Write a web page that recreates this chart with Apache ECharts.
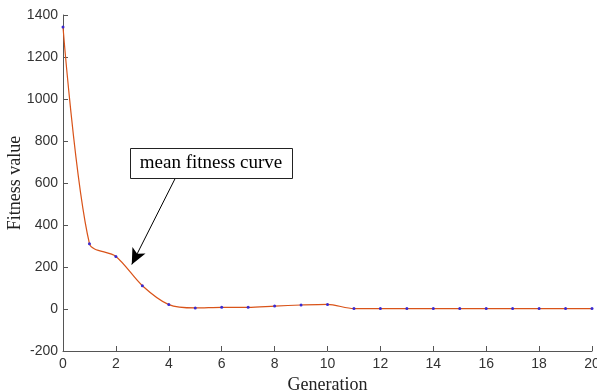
<!DOCTYPE html>
<html>
<head>
<meta charset="utf-8">
<script src="https://cdn.jsdelivr.net/npm/echarts@6/dist/echarts.min.js"></script>
<style>
  html, body { margin: 0; padding: 0; background: #fff; }
  #chart { width: 597px; height: 392px; }
</style>
</head>
<body>
<div id="chart"></div>
<script>
// Generations and mean fitness per generation
const generations = [0, 1, 2, 3, 4, 5, 6, 7, 8, 9, 10, 11, 12, 13, 14, 15, 16, 17, 18, 19, 20];
const meanFitness = [1343, 311, 250, 111, 21, 5, 8, 8, 14, 19, 22, 2, 2, 2, 2, 2, 2, 2, 2, 2, 2];

// Annotation arrow: tail near the label box, head pointing at the curve
const arrowTail = [4.27, 629];
const arrowHead = [2.6, 212];
const annotationText = 'mean fitness curve';

const chart = echarts.init(document.getElementById('chart'));

const seriesData = generations.map((g, i) => [g, meanFitness[i]]);

const axisGray = '#555';
const tickFont = { fontFamily: 'Liberation Sans, Arial, sans-serif', fontSize: 14, color: '#333' };
const nameFont = { fontFamily: 'Liberation Serif, Times New Roman, serif', fontSize: 18, color: '#222' };

chart.setOption({
  animation: false,
  backgroundColor: '#fff',
  grid: { left: 63, right: 5, top: 15, bottom: 41, containLabel: false, outerBoundsMode: 'none' },
  xAxis: {
    type: 'value',
    min: 0, max: 20, interval: 2,
    name: 'Generation',
    nameLocation: 'middle',
    nameGap: 23,
    nameTextStyle: nameFont,
    axisLine: { show: true, onZero: false, lineStyle: { color: axisGray, width: 1 } },
    axisTick: { show: true, inside: true, length: 5, lineStyle: { color: axisGray } },
    axisLabel: Object.assign({ margin: 6, formatter: v => String(v) }, tickFont),
    splitLine: { show: false }
  },
  yAxis: {
    type: 'value',
    min: -200, max: 1400, interval: 200,
    name: 'Fitness value',
    nameLocation: 'middle',
    nameGap: 39,
    nameMoveOverlap: false,
    nameRotate: 90,
    nameTextStyle: nameFont,
    axisLine: { show: true, onZero: false, lineStyle: { color: axisGray, width: 1 } },
    axisTick: { show: true, inside: true, length: 5, lineStyle: { color: axisGray } },
    axisLabel: Object.assign({ margin: 5, formatter: v => String(v) }, tickFont),
    splitLine: { show: false }
  },
  series: [
    {
      type: 'line',
      data: seriesData,
      smooth: 0.3,
      symbol: 'circle',
      symbolSize: 3,
      itemStyle: { color: '#3a2bd0' },
      lineStyle: { color: '#D95319', width: 1.2 },
      z: 3,
      markLine: {
        silent: true,
        symbol: ['none', 'arrow'],
        symbolSize: [11, 16],
        label: { show: false },
        lineStyle: { color: '#000', width: 1, type: 'solid' },
        data: [[{ coord: arrowTail }, { coord: arrowHead }]]
      }
    }
  ],
  graphic: [
    {
      type: 'rect',
      left: 130, top: 148,
      shape: { width: 162, height: 30 },
      style: { fill: '#fff', stroke: '#222', lineWidth: 1 },
      z: 10
    },
    {
      type: 'text',
      x: 211, y: 163,
      style: {
        text: annotationText,
        font: '19px "Liberation Serif", "Times New Roman", serif',
        fill: '#000',
        align: 'center',
        verticalAlign: 'middle'
      },
      z: 11
    }
  ]
});
</script>
</body>
</html>
